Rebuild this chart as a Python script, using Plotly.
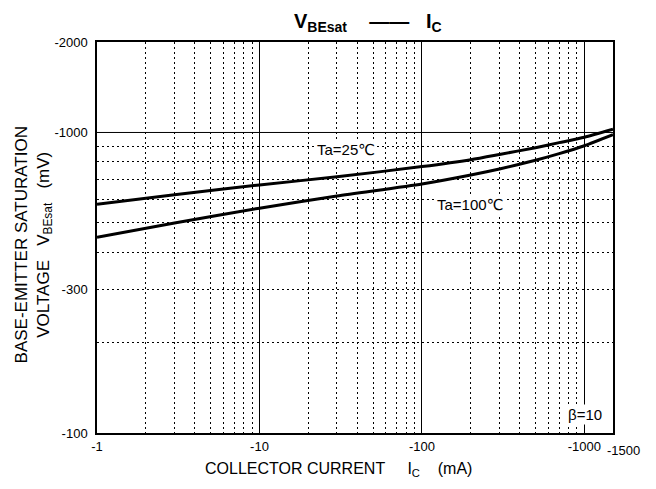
import numpy as np
import plotly.graph_objects as go

# ---- data ----
ic_ma = [1, 3, 10, 30, 100, 200, 300, 500, 700, 1000, 1500]
vbe_25c = [577, 620, 669, 712, 770, 812, 845, 890, 925, 964, 1025]
vbe_100c = [448, 500, 560, 615, 674, 722, 756, 808, 850, 903, 983]

x_tickvals = [1, 10, 100, 1000, 1500]
x_ticktext = ["-1", "-10", "-100", "-1000", ""]
x_end_label = "-1500"
y_tickvals = [100, 300, 1000, 2000]
y_ticktext = ["-100", "-300", "-1000", "-2000"]
x_minor = [m * d for d in (1, 10, 100) for m in range(2, 10)]
y_minor = [200, 300, 400, 500, 600, 700, 800, 900]
y_major_grid = [1000]

FONT = "Liberation Sans, Arial, DejaVu Sans, sans-serif"

fig = go.Figure()
for name, ys in (("Ta=25℃", vbe_25c), ("Ta=100℃", vbe_100c)):
    fig.add_trace(go.Scatter(x=ic_ma, y=ys, mode="lines", name=name,
                             line=dict(color="black", width=3, shape="spline", smoothing=0.6),
                             showlegend=False, hoverinfo="skip"))

dotted = "2px,3px"
fig.update_xaxes(type="log", range=[0, np.log10(1500)],
                 tickmode="array", tickvals=x_tickvals, ticktext=x_ticktext,
                 tickangle=0, ticks="", ticklabelstandoff=1,
                 showgrid=True, gridcolor="black", gridwidth=1,
                 minor=dict(tickmode="array", tickvals=x_minor, showgrid=True,
                            gridcolor="black", gridwidth=1, griddash=dotted, ticks=""),
                 showline=True, linecolor="black", linewidth=1.5, mirror=True,
                 tickfont=dict(family=FONT, size=13, color="black"), zeroline=False)
fig.update_yaxes(type="log", range=[2, np.log10(2000)],
                 tickmode="array", tickvals=y_tickvals, ticktext=y_ticktext,
                 ticks="", ticklabelstandoff=5, showgrid=False,
                 minor=dict(tickmode="array", tickvals=y_minor, showgrid=True,
                            gridcolor="black", gridwidth=1, griddash=dotted, ticks=""),
                 showline=True, linecolor="black", linewidth=1.5, mirror=True,
                 tickfont=dict(family=FONT, size=13, color="black"), zeroline=False)

for yv in y_major_grid:
    fig.add_shape(type="line", xref="paper", x0=0, x1=1, yref="y", y0=yv, y1=yv,
                  line=dict(color="black", width=1), layer="below")

# last x tick label, nudged right as in the reference
fig.add_annotation(xref="x", yref="paper", x=np.log10(x_tickvals[-1]), y=0, yanchor="top",
                   xanchor="center", xshift=10, yshift=-8, text=x_end_label, showarrow=False,
                   font=dict(family=FONT, size=13, color="black"))

# title
fig.add_annotation(xref="paper", yref="paper", x=0.525, y=1.05, xanchor="center", yanchor="middle",
                   text="<b>V<sub>BEsat</sub>\u00a0\u00a0\u00a0\u00a0——\u00a0\u00a0\u00a0I<sub>C</sub></b>",
                   showarrow=False, font=dict(family=FONT, size=20, color="black"))
# axis titles
fig.add_annotation(xref="paper", yref="paper", x=0.4676, y=-0.0946, xanchor="center", yanchor="middle",
                   text="COLLECTOR CURRENT\u00a0\u00a0\u00a0\u00a0\u00a0I<sub>C</sub>\u00a0\u00a0\u00a0\u00a0(mA)",
                   showarrow=False, font=dict(family=FONT, size=16, color="black"))
fig.add_annotation(xref="paper", yref="paper", x=-0.123, y=0.481, xanchor="center", yanchor="middle",
                   textangle=-90,
                   text="BASE-EMITTER SATURATION<br>VOLTAGE\u00a0\u00a0\u00a0V<sub>BEsat</sub>\u00a0\u00a0\u00a0(mV)",
                   showarrow=False, font=dict(family=FONT, size=17, color="black"))
# curve labels
labels = [("Ta=25℃", 1.532, 2.942), ("Ta=100℃", 2.295, 2.759), ("β=10", 3.003, 2.06)]
for txt, lx, ly in labels:
    fig.add_annotation(xref="x", yref="y", x=lx, y=ly, text=txt, showarrow=False,
                       xanchor="center", yanchor="middle", bgcolor="white", borderpad=1,
                       font=dict(family=FONT, size=15, color="black"))

fig.update_layout(width=656, height=489, margin=dict(l=97, r=43, t=42, b=56),
                  paper_bgcolor="white", plot_bgcolor="white", hovermode=False)
fig.write_html("out.html", config={"displayModeBar": False},
               post_script="document.body.style.margin='0';document.body.style.padding='0';")
